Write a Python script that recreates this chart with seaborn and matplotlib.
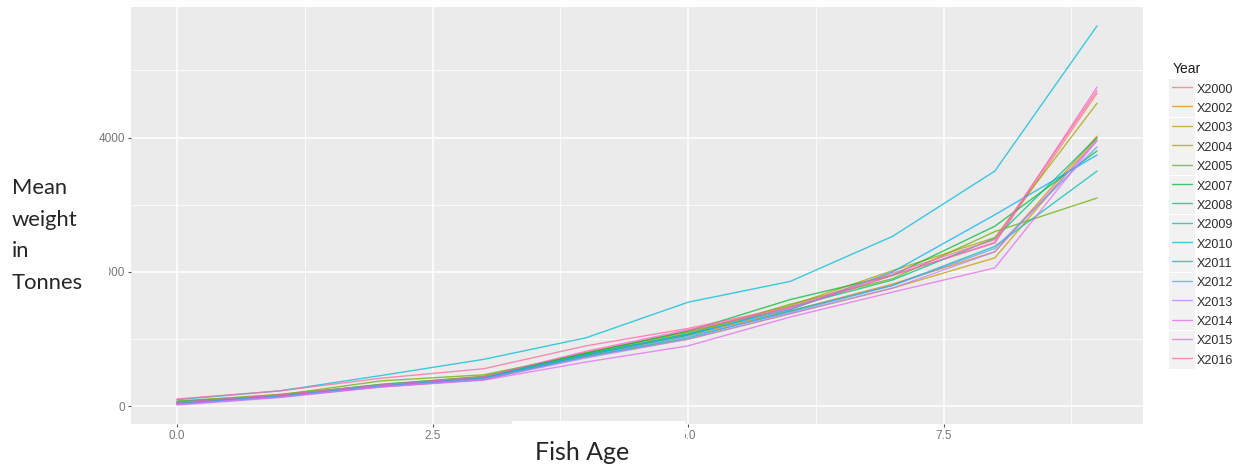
import matplotlib
matplotlib.use("Agg")
import numpy as np
import pandas as pd
import matplotlib.pyplot as plt
import seaborn as sns
from matplotlib.legend_handler import HandlerLine2D
from matplotlib.lines import Line2D
from matplotlib.patches import Rectangle
from matplotlib.ticker import MultipleLocator

# ---- data: mean weight by fish age, one series per survey year ----
ages = [0, 1, 2, 3, 4, 5, 6, 7, 8, 9]
years = ["X2000", "X2002", "X2003", "X2004", "X2005", "X2007", "X2008", "X2009",
         "X2010", "X2011", "X2012", "X2013", "X2014", "X2015", "X2016"]

w_2000 = [60, 160, 300, 420, 800, 1120, 1450, 1950, 2430, 4660]
w_2002 = [40, 150, 290, 400, 760, 1060, 1420, 1820, 2300, 4020]
w_2003 = [50, 170, 310, 420, 740, 1000, 1380, 1760, 2210, 3990]
w_2004 = [70, 180, 320, 450, 800, 1100, 1500, 2020, 2510, 4510]
w_2005 = [80, 170, 380, 470, 780, 1080, 1520, 1900, 2600, 3100]
w_2007 = [60, 160, 330, 440, 790, 1120, 1590, 1950, 2680, 3800]
w_2008 = [70, 150, 310, 430, 760, 1060, 1480, 1880, 2500, 4000]
w_2009 = [50, 140, 300, 400, 740, 1020, 1420, 1800, 2380, 3500]
w_2010 = [100, 230, 460, 700, 1020, 1550, 1860, 2530, 3500, 5660]
w_2011 = [40, 150, 310, 430, 770, 1080, 1440, 2000, 2850, 3740]
w_2012 = [30, 140, 300, 410, 740, 1040, 1400, 1800, 2350, 3860]
w_2013 = [20, 130, 290, 400, 720, 1000, 1380, 1760, 2300, 3950]
w_2014 = [30, 140, 290, 390, 660, 900, 1330, 1700, 2060, 3960]
w_2015 = [60, 170, 320, 440, 820, 1140, 1460, 1950, 2440, 4750]
w_2016 = [110, 230, 420, 560, 900, 1160, 1480, 1980, 2480, 4700]

weights = [w_2000, w_2002, w_2003, w_2004, w_2005, w_2007, w_2008, w_2009,
           w_2010, w_2011, w_2012, w_2013, w_2014, w_2015, w_2016]

x_ticks = [0, 2.5, 5, 7.5]
x_tick_labels = ["0.0", "2.5", "5.0", "7.5"]
y_ticks = [0, 2000, 4000]
y_tick_labels = ["0", "2000", "4000"]

# ggplot-style evenly spaced hue palette
palette = ["#F8766D", "#E58700", "#C99800", "#A3A500", "#6BB100", "#00BA38",
           "#00BF7D", "#00C0AF", "#00BCD8", "#00B0F6", "#619CFF", "#B983FF",
           "#E76BF3", "#FD61D1", "#FF67A4"]

df = pd.DataFrame(
    [(y, a, v) for y, w in zip(years, weights) for a, v in zip(ages, w)],
    columns=["Year", "Age", "Weight"],
)

# ---- style ----
sns.set_style("darkgrid", {"axes.facecolor": "#EBEBEB", "grid.color": "white"})
plt.rcParams["font.family"] = ["Liberation Sans", "DejaVu Sans"]

W, H = 1243, 469
fig = plt.figure(figsize=(W / 100, H / 100), dpi=100)
ax = fig.add_axes([131 / W, 45 / H, (1143 - 131) / W, (424 - 7) / H])

sns.lineplot(data=df, x="Age", y="Weight", hue="Year", hue_order=years,
             palette=palette, linewidth=1.0, alpha=0.75, ax=ax, legend=False)

# ggplot-like 5% expansion on both axes
xlo, xhi = min(ages), max(ages)
ylo, yhi = df["Weight"].min(), df["Weight"].max()
ax.set_xlim(xlo - 0.05 * (xhi - xlo), xhi + 0.05 * (xhi - xlo))
ax.set_ylim(ylo - 0.05 * (yhi - ylo), yhi + 0.05 * (yhi - ylo))

ax.set_xticks(x_ticks)
ax.set_xticklabels(x_tick_labels)
ax.set_yticks(y_ticks)
ax.set_yticklabels(y_tick_labels)
ax.xaxis.set_minor_locator(MultipleLocator(1.25))
ax.yaxis.set_minor_locator(MultipleLocator(1000))
ax.grid(which="major", color="white", linewidth=1.1)
ax.grid(which="minor", color="white", linewidth=0.55)
ax.tick_params(which="major", length=2.5, width=0.8, color="#555555",
               labelsize=8.5, labelcolor="#777777", pad=2, bottom=True, left=True)
ax.tick_params(which="minor", length=0)
for s in ax.spines.values():
    s.set_visible(False)
ax.set_xlabel("")
ax.set_ylabel("")


# legend keys on grey tiles
class KeyHandler(HandlerLine2D):
    def create_artists(self, legend, orig_handle, xdescent, ydescent,
                       width, height, fontsize, trans):
        arts = super().create_artists(legend, orig_handle, xdescent, ydescent,
                                      width, height, fontsize, trans)
        gap = legend.labelspacing * fontsize / 2
        bg = Rectangle((-xdescent - 2.2, -ydescent - gap), width + 4.4,
                       height + 2 * gap, facecolor="#F2F2F2", edgecolor="none",
                       transform=trans)
        return [bg] + list(arts)


handles = [Line2D([], [], color=c, linewidth=1.0, alpha=0.75) for c in palette]
leg = fig.legend(handles, years, title="Year", loc="upper left",
                 bbox_to_anchor=(1166 / W, 1 - 56 / H), frameon=False,
                 fontsize=9, title_fontsize=10, handlelength=1.6,
                 handleheight=1.3, labelspacing=0.43, handletextpad=0.35,
                 borderpad=0, alignment="left",
                 handler_map={Line2D: KeyHandler()})
for t in leg.get_texts():
    t.set_color("#2b2b2b")
leg.get_title().set_color("#1a1a1a")

# axis titles on white boxes
fig.add_artist(Rectangle((0, 1 - 300 / H), 109 / W, 140 / H,
                         transform=fig.transFigure, facecolor="white",
                         edgecolor="none", zorder=5))
fig.text(12 / W, 1 - 178 / H, "Mean\nweight\nin\nTonnes", fontsize=15.8,
         family="Lato", va="top", ha="left", linespacing=1.72, zorder=6)

fig.add_artist(Rectangle((512 / W, 0), (685 - 512) / W, (469 - 421) / H,
                         transform=fig.transFigure, facecolor="white",
                         edgecolor="none", zorder=5))
fig.text(582 / W, 1 - 460 / H, "Fish Age", fontsize=18, family="Lato",
         va="baseline", ha="center", zorder=6)

fig.savefig("out.png", dpi=100, facecolor="white")
